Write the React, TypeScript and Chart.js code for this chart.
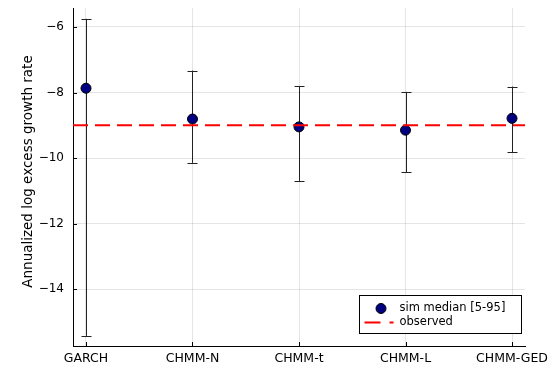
import React, { useEffect, useRef } from "react";
import { Chart, registerables } from "chart.js";

Chart.register(...registerables);

const categories = ["GARCH", "CHMM-N", "CHMM-t", "CHMM-L", "CHMM-GED"];
const medians = [-7.87, -8.81, -9.05, -9.15, -8.79];
const lower5 = [-15.43, -10.15, -10.7, -10.43, -9.83];
const upper95 = [-5.75, -7.33, -7.8, -7.98, -7.82];
const observed = -9.0;
const yTicks = [-14, -12, -10, -8, -6];
const legendLabels = ["sim median [5-95]", "observed"];
const yTitle = "Annualized log excess growth rate";

const X_MIN = 0.878;
const X_MAX = 5.122;
const Y_MIN = -15.74;
const Y_MAX = -5.42;

const FONT = "'DejaVu Sans', sans-serif";

const overlayPlugin = {
  id: "overlay",
  beforeDatasetsDraw(chart: any) {
    const { ctx, scales } = chart;
    const xs = scales.x;
    const ys = scales.y;
    ctx.save();
    ctx.strokeStyle = "#222";
    ctx.lineWidth = 1;
    for (let i = 0; i < categories.length; i++) {
      const px = Math.round(xs.getPixelForValue(i + 1)) + 0.5;
      const pLo = ys.getPixelForValue(lower5[i]);
      const pHi = ys.getPixelForValue(upper95[i]);
      ctx.beginPath();
      ctx.moveTo(px, pLo);
      ctx.lineTo(px, pHi);
      ctx.moveTo(px - 5, Math.round(pLo) + 0.5);
      ctx.lineTo(px + 5, Math.round(pLo) + 0.5);
      ctx.moveTo(px - 5, Math.round(pHi) + 0.5);
      ctx.lineTo(px + 5, Math.round(pHi) + 0.5);
      ctx.stroke();
    }
    const ca = chart.chartArea;
    ctx.strokeStyle = "#000";
    ctx.beginPath();
    for (const t of yTicks) {
      const py = Math.round(ys.getPixelForValue(t)) + 0.5;
      ctx.moveTo(ca.left, py);
      ctx.lineTo(ca.left + 4, py);
    }
    for (let i = 0; i < categories.length; i++) {
      const px = Math.round(xs.getPixelForValue(i + 1)) + 0.5;
      ctx.moveTo(px, ca.bottom);
      ctx.lineTo(px, ca.bottom - 4);
    }
    ctx.stroke();
    ctx.restore();
  },
  afterDraw(chart: any) {
    const { ctx } = chart;
    const ca = chart.chartArea;
    ctx.save();
    ctx.translate(28.5, 171.5);
    ctx.rotate(-Math.PI / 2);
    ctx.fillStyle = "#000";
    ctx.font = `13.5px ${FONT}`;
    ctx.textAlign = "center";
    ctx.textBaseline = "middle";
    ctx.fillText(yTitle, 0, 0);
    ctx.restore();

    const w = 162;
    const h = 38;
    const bx = Math.round(ca.right - 4 - w) + 0.5;
    const by = Math.round(ca.bottom - 13 - h) + 0.5;
    ctx.save();
    ctx.fillStyle = "#fff";
    ctx.fillRect(bx, by, w, h);
    ctx.strokeStyle = "#000";
    ctx.lineWidth = 1;
    ctx.strokeRect(bx, by, w, h);
    ctx.beginPath();
    ctx.arc(bx + 21.5, by + 13, 5, 0, Math.PI * 2);
    ctx.fillStyle = "#000080";
    ctx.fill();
    ctx.strokeStyle = "#000";
    ctx.stroke();
    ctx.beginPath();
    ctx.strokeStyle = "#ff0000";
    ctx.lineWidth = 2;
    ctx.setLineDash([16, 9]);
    ctx.moveTo(bx + 5, by + 27);
    ctx.lineTo(bx + 34, by + 27);
    ctx.stroke();
    ctx.setLineDash([]);
    ctx.fillStyle = "#000";
    ctx.font = `11.5px ${FONT}`;
    ctx.textBaseline = "middle";
    ctx.textAlign = "left";
    ctx.fillText(legendLabels[0], bx + 40, by + 13);
    ctx.fillText(legendLabels[1], bx + 40, by + 27);
    ctx.restore();
  },
};

export default function App() {
  const ref = useRef<HTMLCanvasElement | null>(null);
  useEffect(() => {
    if (!ref.current) return;
    const chart = new Chart(ref.current, {
      type: "scatter",
      data: {
        datasets: [
          {
            type: "line",
            label: legendLabels[1],
            data: [
              { x: X_MIN, y: observed },
              { x: X_MAX, y: observed },
            ],
            borderColor: "#ff0000",
            borderWidth: 2,
            borderDash: [15, 7],
            pointRadius: 0,
            order: 0,
          } as any,
          {
            type: "scatter",
            label: legendLabels[0],
            data: medians.map((m, i) => ({ x: i + 1, y: m })),
            backgroundColor: "#000080",
            borderColor: "#000",
            borderWidth: 1,
            pointRadius: 5,
            order: 1,
          },
        ],
      },
      options: {
        animation: false,
        responsive: false,
        layout: { padding: { left: 0, right: 29, top: 8, bottom: 0 } },
        plugins: { legend: { display: false }, tooltip: { enabled: false } },
        scales: {
          x: {
            type: "linear",
            min: X_MIN,
            max: X_MAX,
            afterBuildTicks: (s: any) => {
              s.ticks = categories.map((_, i) => ({ value: i + 1 }));
            },
            afterFit: (s: any) => {
              s.height = 19;
              s.paddingLeft = 0;
              s.paddingRight = 0;
            },
            ticks: {
              callback: (v: any) => categories[Math.round(v) - 1] ?? "",
              font: { family: FONT, size: 12.5 },
              color: "#000",
              padding: 5,
              maxRotation: 0,
              autoSkip: false,
            },
            grid: { color: "rgba(0,0,0,0.1)", lineWidth: 1, tickLength: 0 },
            border: { display: true, color: "#000", width: 1 },
          },
          y: {
            type: "linear",
            min: Y_MIN,
            max: Y_MAX,
            afterBuildTicks: (s: any) => {
              s.ticks = yTicks.map((v) => ({ value: v }));
            },
            afterFit: (s: any) => {
              s.width = 73;
              s.paddingTop = 0;
              s.paddingBottom = 0;
            },
            ticks: {
              callback: (v: any) => (v < 0 ? "\u2212" : "") + Math.abs(v),
              font: { family: FONT, size: 12 },
              color: "#000",
              padding: 9,
            },
            grid: { color: "rgba(0,0,0,0.1)", lineWidth: 1, tickLength: 0 },
            border: { display: true, color: "#000", width: 1 },
          },
        },
      },
      plugins: [overlayPlugin],
    });
    return () => chart.destroy();
  }, []);
  return (
    <div style={{ position: "fixed", left: 0, top: 0, width: 554, height: 365, background: "#fff" }}>
      <canvas ref={ref} width={554} height={365} style={{ display: "block" }} />
    </div>
  );
}
